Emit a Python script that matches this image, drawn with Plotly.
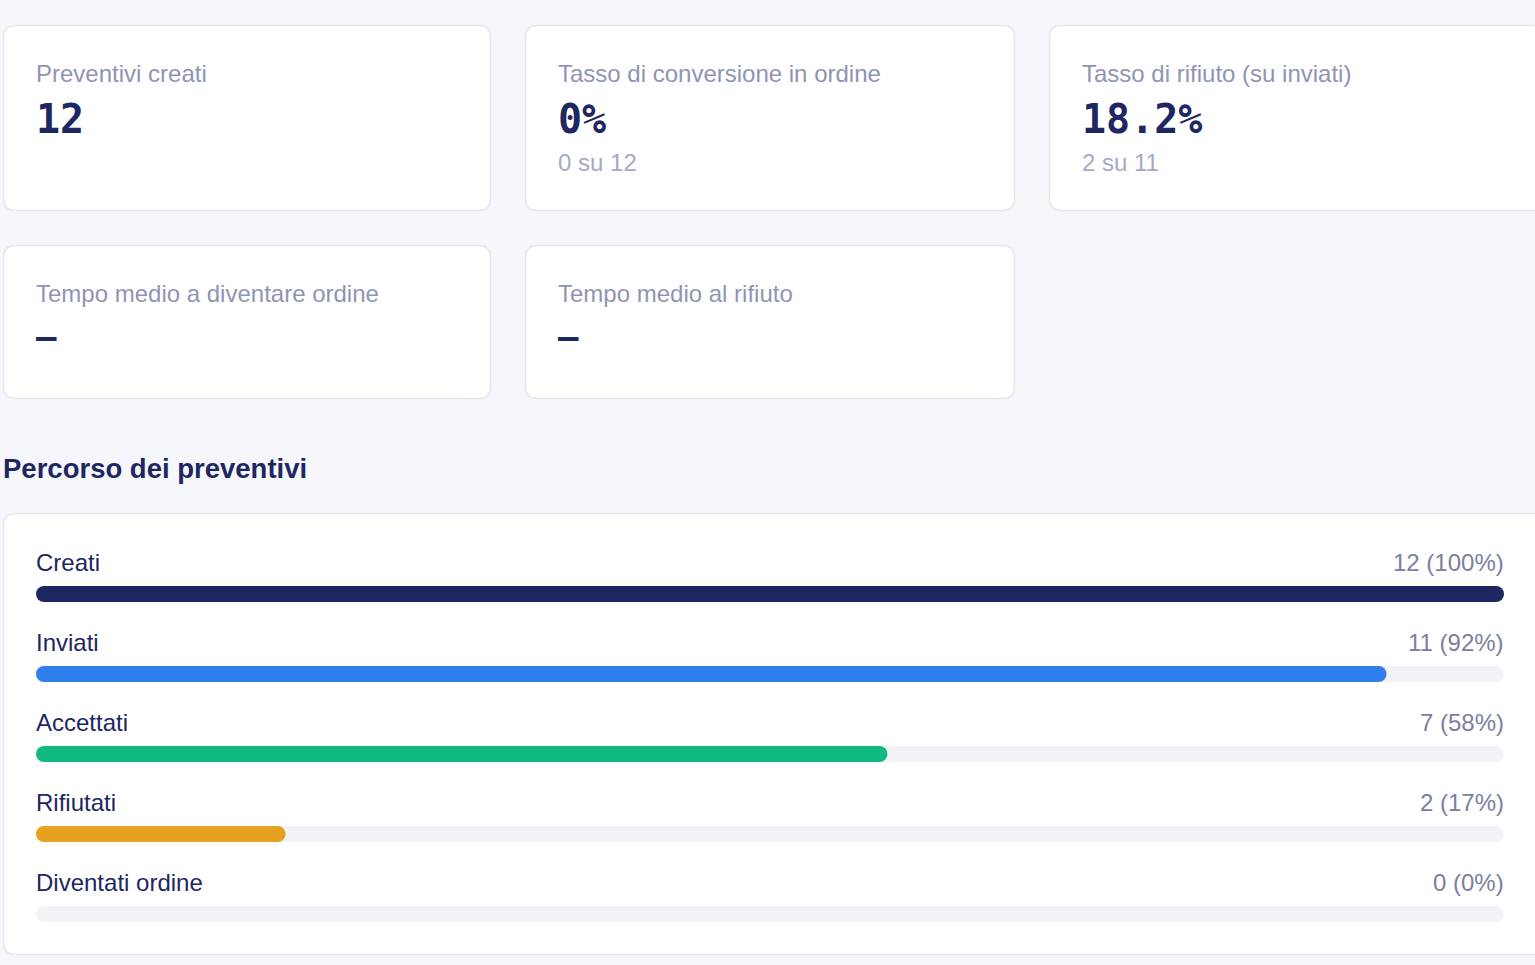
import plotly.graph_objects as go

# ---- data ----
kpi_labels = ["Preventivi creati", "Tasso di conversione in ordine", "Tasso di rifiuto (su inviati)",
              "Tempo medio a diventare ordine", "Tempo medio al rifiuto"]
kpi_values = ["12", "0%", "18.2%", "–", "–"]
kpi_subs = ["", "0 su 12", "2 su 11", "", ""]

stages = ["Creati", "Inviati", "Accettati", "Rifiutati", "Diventati ordine"]
counts = [12, 11, 7, 2, 0]
total = 12
stage_colors = ["#1e2761", "#2f80ed", "#10b981", "#e5a11f", "#2f80ed"]

title = "Percorso dei preventivi"

W, H = 1535, 965
BG = "#f6f7fb"
NAVY = "#1e2761"
LABEL = "#8e95b2"
SUB = "#a4aac2"
VAL = "#7a809f"
TRACK = "#f2f3f6"
SANS = "Liberation Sans, Arial, Helvetica, sans-serif"
MONO = "DejaVu Sans Mono, monospace"

percents = [round(100 * c / total) for c in counts]


def rrect(x0, y0, x1, y1, r):
    return (f"M{x0+r},{y0} L{x1-r},{y0} Q{x1},{y0} {x1},{y0+r} L{x1},{y1-r} Q{x1},{y1} {x1-r},{y1} "
            f"L{x0+r},{y1} Q{x0},{y1} {x0},{y1-r} L{x0},{y0+r} Q{x0},{y0} {x0+r},{y0} Z")


fig = go.Figure()

# card boxes (layout geometry)
cards = [
    (3, 25, 491, 211), (525, 25, 1015, 211), (1049, 25, 1545, 211),
    (3, 245, 491, 399), (525, 245, 1015, 399),
]
shapes = []
for (x0, y0, x1, y1) in cards:
    shapes.append(dict(type="path", path=rrect(x0 + 0.5, y0 + 0.5, x1 - 0.5, y1 - 0.5, 12),
                       xref="x", yref="y", fillcolor="white",
                       line=dict(color="#e4e6ee", width=1.5), layer="below"))
shapes.append(dict(type="path", path=rrect(3.5, 513.5, 1545, 954.5, 12), xref="x", yref="y",
                   fillcolor="white", line=dict(color="#e4e6ee", width=1.5), layer="below"))

annotations = []
for i, (lab, val, sub) in enumerate(zip(kpi_labels, kpi_values, kpi_subs)):
    x0, y0, x1, y1 = cards[i]
    tx = x0 + 31
    annotations.append(dict(x=tx, y=y0 + 48, text=lab, xref="x", yref="y", showarrow=False,
                            xanchor="left", yanchor="middle",
                            font=dict(family=SANS, size=24, color=LABEL)))
    is_dash = val == "–"
    annotations.append(dict(x=tx, y=y0 + (91 if is_dash else 94), text=f"<b>{val}</b>", xref="x",
                            yref="y", showarrow=False, xanchor="left", yanchor="middle",
                            font=dict(family=MONO, size=34 if is_dash else 40, color=NAVY)))
    if sub:
        annotations.append(dict(x=tx, y=y0 + 137, text=sub, xref="x", yref="y", showarrow=False,
                                xanchor="left", yanchor="middle",
                                font=dict(family=SANS, size=24, color=SUB)))

annotations.append(dict(x=1, y=468, text=f"<b>{title}</b>", xref="x", yref="y", showarrow=False,
                        xanchor="left", yanchor="middle",
                        font=dict(family=SANS, size=27.5, color=NAVY)))

# stage labels and values
for s, c, p in zip(stages, counts, percents):
    annotations.append(dict(x=0, y=s, text=s, xref="x2 domain", yref="y2", yshift=32, xshift=-2,
                            showarrow=False, xanchor="left", yanchor="middle",
                            font=dict(family=SANS, size=24, color=NAVY)))
    annotations.append(dict(x=1, y=s, text=f"{c} ({p}%)", xref="x2 domain",
                            yref="y2", yshift=32, xshift=2, showarrow=False, xanchor="right",
                            yanchor="middle", font=dict(family=SANS, size=24, color=VAL)))

# invisible trace to anchor layout axis
fig.add_trace(go.Scatter(x=[0], y=[0], mode="markers", marker=dict(opacity=0), hoverinfo="skip",
                         showlegend=False, xaxis="x", yaxis="y"))


def pill(values, colors):
    """Bar rounded at both ends: a left piece growing from the middle back to 0,
    then a right piece (drawn on top) from a quarter to the full value."""
    fig.add_trace(go.Bar(
        y=stages, x=[-v / 2 for v in values], base=[v / 2 for v in values],
        orientation="h", xaxis="x2", yaxis="y2",
        marker=dict(color=colors, cornerradius=8, line=dict(width=0)),
        width=0.2, hoverinfo="skip", showlegend=False))
    fig.add_trace(go.Bar(
        y=stages, x=[v * 3 / 4 for v in values], base=[v / 4 for v in values],
        orientation="h", xaxis="x2", yaxis="y2",
        marker=dict(color=colors, cornerradius=8, line=dict(width=0)),
        width=0.2, hoverinfo="skip", showlegend=False))


pill([100] * len(stages), TRACK)
pill(percents, stage_colors)

top = 1 - 554 / H
bot = 1 - 954 / H
fig.update_layout(
    width=W, height=H, margin=dict(l=0, r=0, t=0, b=0),
    paper_bgcolor=BG, plot_bgcolor="rgba(0,0,0,0)",
    barmode="overlay", showlegend=False,
    xaxis=dict(range=[0, W], domain=[0, 1], visible=False, fixedrange=True),
    yaxis=dict(range=[H, 0], domain=[0, 1], visible=False, fixedrange=True),
    xaxis2=dict(range=[0, 100], domain=[36 / W, 1504 / W], visible=False, anchor="y2",
                fixedrange=True),
    yaxis2=dict(domain=[bot, top], range=[len(stages) - 0.5, -0.5], visible=False, anchor="x2",
                fixedrange=True, categoryorder="array", categoryarray=stages, type="category"),
    shapes=shapes, annotations=annotations,
)

fig.write_html("out.html", config={"displayModeBar": False},
               post_script="document.body.style.margin='0';document.body.style.background='#f6f7fb';")
